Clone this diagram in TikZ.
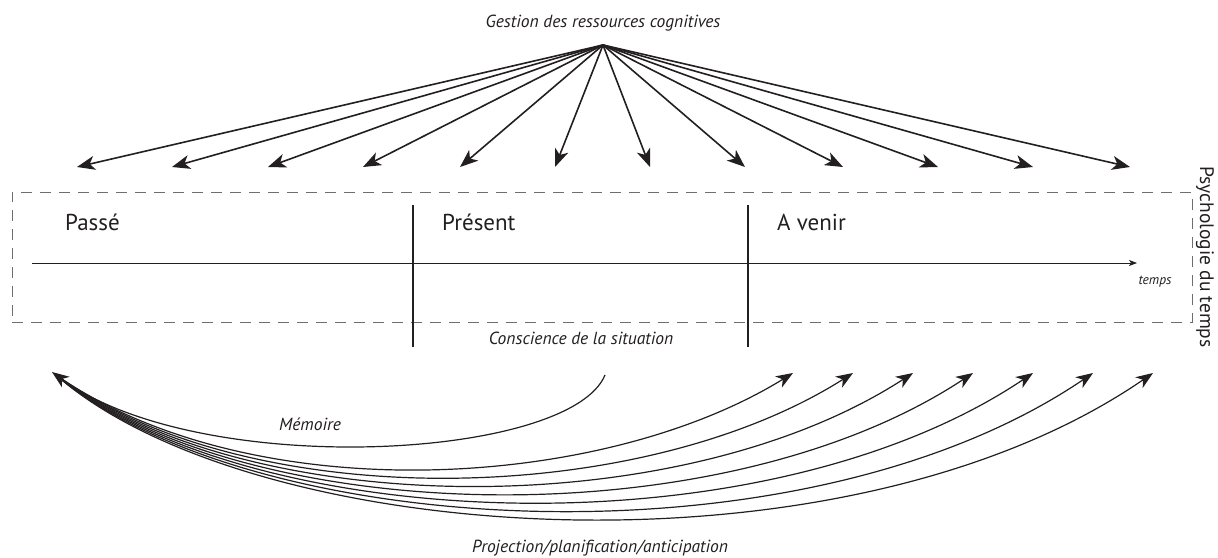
\documentclass[tikz,border=0pt]{standalone}
\usepackage{fontspec}
\setmainfont{PT Sans}
\usepackage{tikz}
\usetikzlibrary{positioning}
\usetikzlibrary{arrows.meta}
\usepackage{xcolor}
\definecolor{ink}{HTML}{231F20}
\definecolor{dashgray}{HTML}{6D6E71}

\begin{document}
\begin{tikzpicture}[x=1pt, y=-1pt,
  fanarrow/.style = {draw=ink, line width=1.6pt, -{Stealth[length=18pt, width=14pt, inset=5pt]}},
  curvearrow/.style = {draw=ink, line width=1.2pt, -{Stealth[length=17pt, width=13pt, inset=5pt]}},
  captiontext/.style = {text=ink, font=\fontsize{17.5}{20}\selectfont\itshape},
  periodtext/.style = {text=ink, anchor=west, inner sep=0pt, font=\fontsize{23}{25}\selectfont},
  divline/.style = {draw=ink, line width=1.6pt}]
\useasboundingbox (0,0) rectangle (1218,557);

% ressources cognitives
\node[captiontext] (gest) at (603,23) {Gestion des ressources cognitives};
\coordinate (src) at (603,45);
\foreach \x [count=\i] in {77,172,268,363,460,555,650,745,843,938,1033,1130}
  \coordinate (t\i) at (\x,167);
\foreach \i in {1,...,12}
  \path (src) edge [fanarrow] (t\i);

% cadre du temps
\node[draw=dashgray, line width=1pt, dash pattern=on 11pt off 8pt,
  minimum width=1180pt, minimum height=130pt, inner sep=0pt] (cadre) at (602,257) {};
\node[captiontext, rotate=-90, font=\fontsize{19.5}{22}\selectfont] (psy) at (1205,257) {Psychologie du temps};
\draw[divline] (413,205) -- (413,347);
\draw[divline] (748,205) -- (748,347);
\node[periodtext] (passe) at (65,222) {Passé};
\node[periodtext] (present) at (442,222) {Présent};
\node[periodtext] (avenir) at (777,222) {A venir};
\coordinate (t0) at (32,263);
\coordinate (tend) at (1137,263);
\draw[ink, line width=0.8pt, -{Stealth[length=8pt, width=6pt, inset=2pt]}] (t0) -- (tend);
\node[captiontext, font=\fontsize{13.5}{15}\selectfont\itshape] (temps) at (1155,282) {temps};
\node[captiontext] (consc) at (581,338) {Conscience de la situation};

% memoire
\coordinate (now) at (605,375);
\coordinate (past) at (52,372);
\draw[curvearrow] (now) .. controls (570,460) and (200,480) .. (past);
\node[captiontext] (mem) at (310,424) {Mémoire};

% projection
\coordinate (p0) at (56,375);
\foreach \i in {0,...,6}{
  \coordinate (f\i) at (793+60*\i,373);
  \draw[curvearrow] (p0) .. controls (250,510+6*\i) and (600+40*\i,492+16*\i) .. (f\i);
}
\node[captiontext] (proj) at (600,548) {Projection/planification/anticipation};
\end{tikzpicture}
\end{document}
